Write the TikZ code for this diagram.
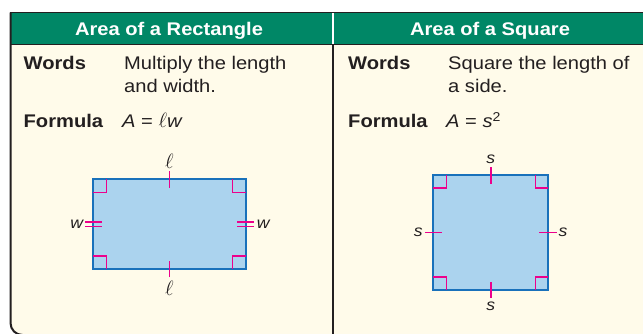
\documentclass[tikz,border=0pt]{standalone}
\usepackage{fontspec}
\newfontfamily\tabfont[FakeStretch=1.1]{Liberation Sans}
\usetikzlibrary{positioning}
\definecolor{hdgreen}{RGB}{0,135,102}
\definecolor{cream}{RGB}{255,251,234}
\definecolor{ink}{RGB}{35,31,32}
\definecolor{figfill}{RGB}{171,211,238}
\definecolor{figblue}{RGB}{25,113,187}
\definecolor{mpink}{RGB}{236,0,140}
\newcommand{\bigell}[1]{{\fontsize{#1}{#1}\selectfont$\ell$}}

\begin{document}
\begin{tikzpicture}[x=1pt, y=-1pt,
  txt/.style={anchor=base west, inner sep=0pt, align=left, text=ink,
              font=\tabfont\fontsize{18.3}{23}\selectfont},
  txtb/.style={txt, font=\tabfont\bfseries\fontsize{18.3}{23}\selectfont},
  head/.style={txtb, anchor=base, text=white},
  lbl/.style={inner sep=0pt, text=ink, font=\tabfont\itshape\fontsize{16}{18}\selectfont},
  fig/.style={draw=figblue, fill=figfill, line width=2pt, inner sep=0pt, outer sep=0pt},
  pinkmark/.style={draw=mpink, line width=1.4pt},
  frameln/.style={draw=ink, line width=2pt}
]
\useasboundingbox (0,0) rectangle (643,333);
\clip (0,0) rectangle (643,333);

% frame and header
\fill[cream, rounded corners=12pt] (10.5,12.5) -- (10.5,335) -- (700,335) -- (700,12.5) -- cycle;
\fill[hdgreen] (10.5,12.5) rectangle (700,44.3);
\draw[ink, line width=1pt] (10.5,44.3) -- (700,44.3);
\draw[white, line width=1.5pt] (333,13) -- (333,44);
\draw[frameln, line width=2.5pt] (333,44.3) -- (333,340);
\draw[frameln, line width=1.5pt] (9.5,12.5) -- (700,12.5);
\draw[frameln, rounded corners=12pt] (10.5,12.5) -- (10.5,335) -- (700,335);

\node[head] (hdL) at (169,35.5) {Area of a Rectangle};
\node[head] (hdR) at (490,35.5) {Area of a Square};

% left column (two-line nodes sit on their last baseline)
\node[txtb] (wordsL) at (23.5,69.3) {Words};
\node[txt]  (descL)  at (124,92.3) {Multiply the length\\and width.};
\node[txtb] (formL)  at (23.5,127.3) {Formula};
\node[txt]  (eqL)    at (122,127.3) {\itshape A \upshape= \bigell{22}\itshape w};

% right column
\node[txtb] (wordsR) at (348,69.3) {Words};
\node[txt]  (descR)  at (448,92.3) {Square the length of\\a side.};
\node[txtb] (formR)  at (348,127.3) {Formula};
\node[txt]  (eqR)    at (446,127.3) {\itshape A \upshape= \itshape s\upshape\textsuperscript{2}};

% rectangle
\node[fig, minimum width=152.4pt, minimum height=89.7pt] (rect) at (169.5,224.2) {};
\node[lbl, above=11pt of rect] (lTop) {\bigell{20}};
\node[lbl, below=12pt of rect] (lBot) {\bigell{20}};
\node[lbl, left=10pt of rect]  (wL) {w};
\node[lbl, right=11pt of rect] (wR) {w};
\draw[pinkmark] ([yshift=8pt]rect.north) -- ([yshift=-8.5pt]rect.north);
\draw[pinkmark] ([yshift=-8pt]rect.south) -- ([yshift=8.5pt]rect.south);
\draw[pinkmark, line width=1.2pt] ([xshift=-8pt,yshift=2.3pt]rect.west) -- ([xshift=9pt,yshift=2.3pt]rect.west);
\draw[pinkmark, line width=1.2pt] ([xshift=-8pt,yshift=-2.3pt]rect.west) -- ([xshift=9pt,yshift=-2.3pt]rect.west);
\draw[pinkmark, line width=1.2pt] ([xshift=8pt,yshift=2.3pt]rect.east) -- ([xshift=-9pt,yshift=2.3pt]rect.east);
\draw[pinkmark, line width=1.2pt] ([xshift=8pt,yshift=-2.3pt]rect.east) -- ([xshift=-9pt,yshift=-2.3pt]rect.east);
\draw[pinkmark] ([yshift=-13pt]rect.north west) -| ([xshift=13pt]rect.north west);
\draw[pinkmark] ([yshift=-13pt]rect.north east) -| ([xshift=-13pt]rect.north east);
\draw[pinkmark] ([yshift=13pt]rect.south west) -| ([xshift=13pt]rect.south west);
\draw[pinkmark] ([yshift=13pt]rect.south east) -| ([xshift=-13pt]rect.south east);

% square
\node[fig, minimum width=115pt, minimum height=115pt] (sq) at (490.8,232.5) {};
\node[lbl, above=11pt of sq] (sTop) {s};
\node[lbl, below=11.5pt of sq] (sBot) {s};
\node[lbl, left=10.5pt of sq]  (sL) {s};
\node[lbl, right=10pt of sq]   (sR) {s};
\draw[pinkmark] ([yshift=8pt]sq.north) -- ([yshift=-8.5pt]sq.north);
\draw[pinkmark] ([yshift=-8pt]sq.south) -- ([yshift=8.5pt]sq.south);
\draw[pinkmark] ([xshift=-8.5pt]sq.west) -- ([xshift=9pt]sq.west);
\draw[pinkmark] ([xshift=8.5pt]sq.east) -- ([xshift=-9pt]sq.east);
\draw[pinkmark] ([yshift=-13pt]sq.north west) -| ([xshift=13pt]sq.north west);
\draw[pinkmark] ([yshift=-13pt]sq.north east) -| ([xshift=-13pt]sq.north east);
\draw[pinkmark] ([yshift=13pt]sq.south west) -| ([xshift=13pt]sq.south west);
\draw[pinkmark] ([yshift=13pt]sq.south east) -| ([xshift=-13pt]sq.south east);
\end{tikzpicture}
\end{document}
